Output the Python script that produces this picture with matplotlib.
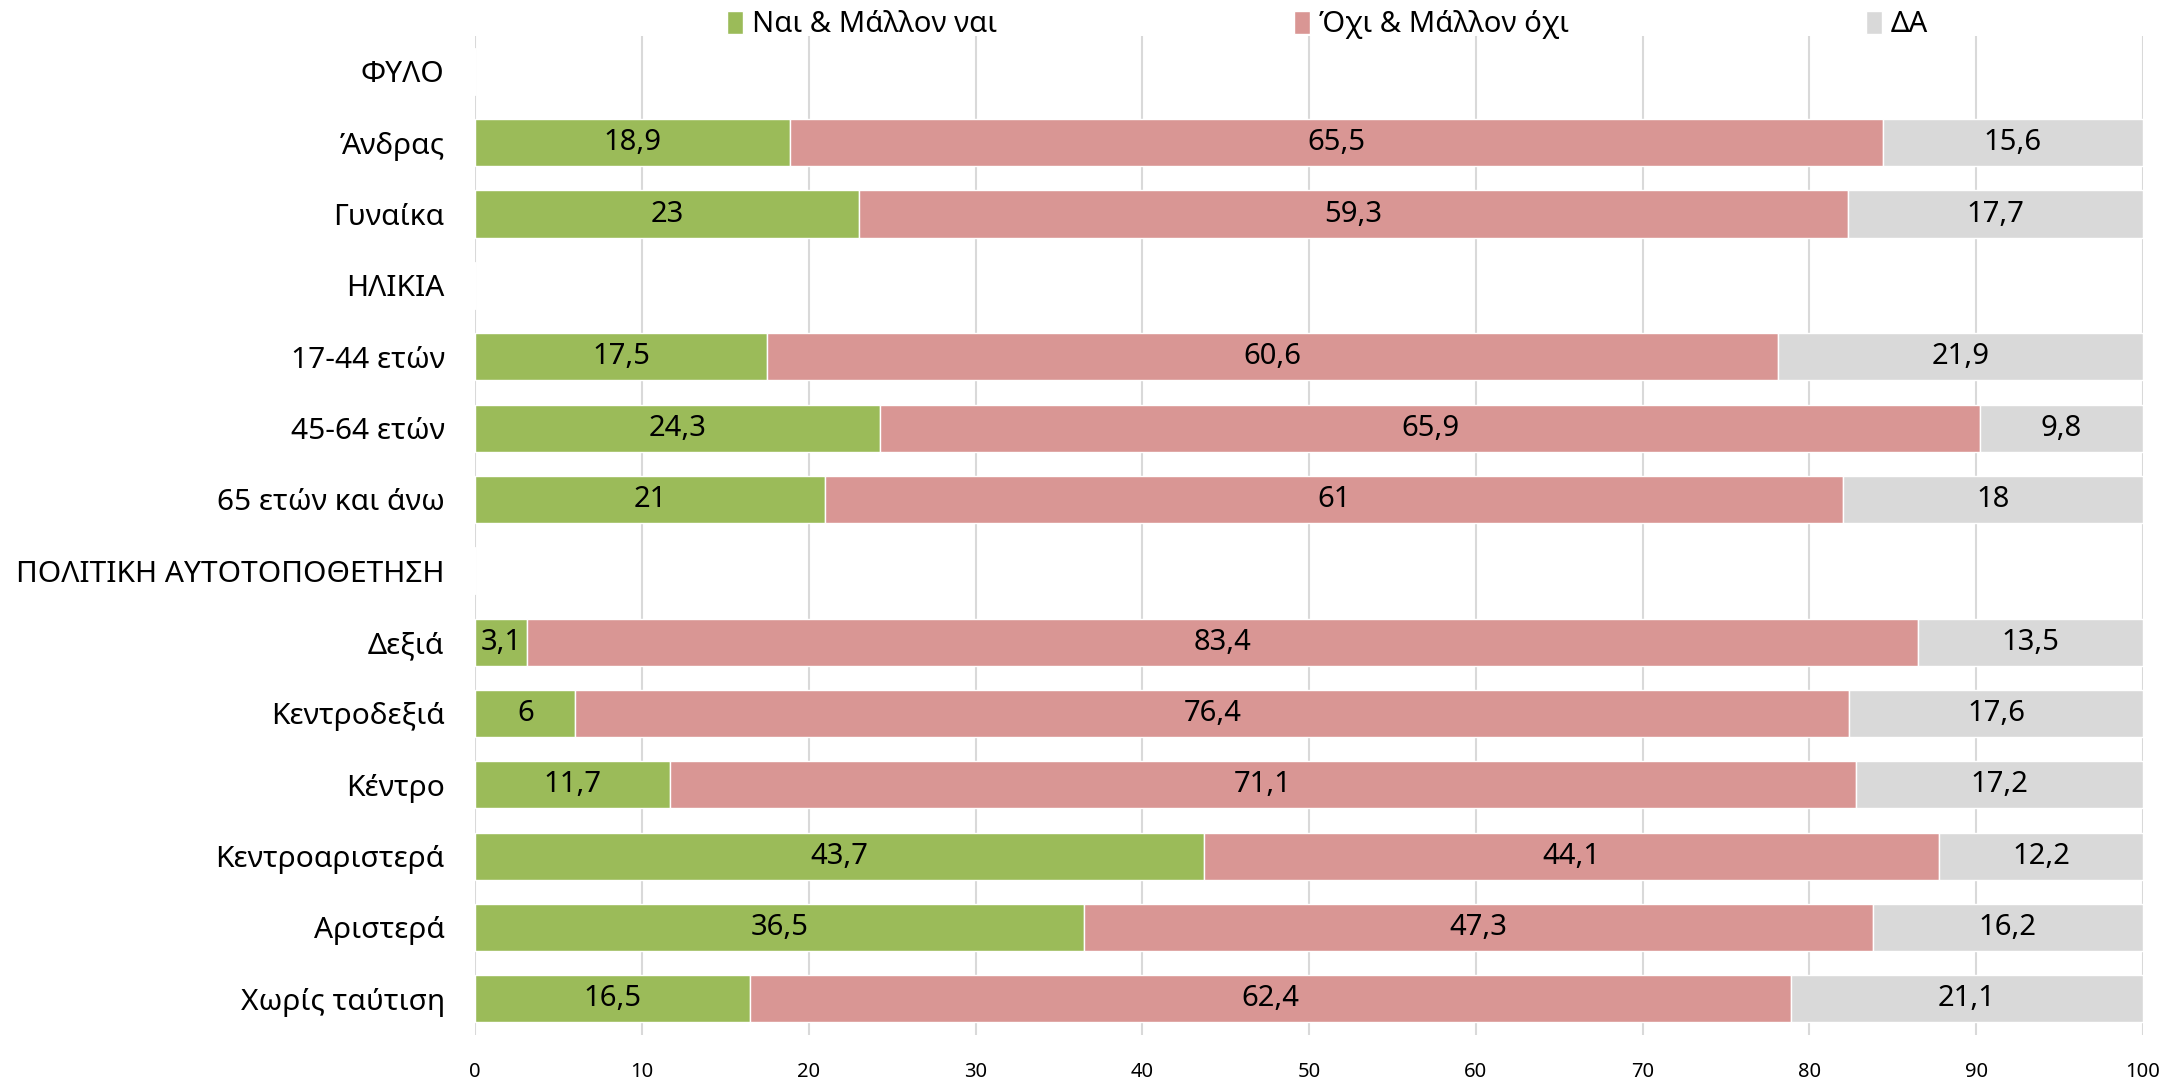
import numpy as np
import matplotlib
matplotlib.use('Agg')
import matplotlib.pyplot as plt

plt.rcParams['font.family'] = ['Noto Sans', 'DejaVu Sans']

# data -------------------------------------------------------------------
categories = ['ΦΥΛΟ', 'Άνδρας', 'Γυναίκα', 'ΗΛΙΚΙΑ', '17-44 ετών', '45-64 ετών',
              '65 ετών και άνω', 'ΠΟΛΙΤΙΚΗ ΑΥΤΟΤΟΠΟΘΕΤΗΣΗ', 'Δεξιά', 'Κεντροδεξιά',
              'Κέντρο', 'Κεντροαριστερά', 'Αριστερά', 'Χωρίς ταύτιση']
yes = [np.nan, 18.9, 23, np.nan, 17.5, 24.3, 21, np.nan, 3.1, 6, 11.7, 43.7, 36.5, 16.5]
no = [np.nan, 65.5, 59.3, np.nan, 60.6, 65.9, 61, np.nan, 83.4, 76.4, 71.1, 44.1, 47.3, 62.4]
dk = [np.nan, 15.6, 17.7, np.nan, 21.9, 9.8, 18, np.nan, 13.5, 17.6, 17.2, 12.2, 16.2, 21.1]
series_names = ['Ναι & Μάλλον ναι', 'Όχι & Μάλλον όχι', 'ΔΑ']
colors = ['#9BBB59', '#D99694', '#D9D9D9']
xticks = list(range(0, 101, 10))

fig = plt.figure(figsize=(21.8, 10.81), dpi=100)
ax = fig.add_axes([0.218, 0.043, 0.765, 0.924])

y = np.arange(len(categories))
left = np.zeros(len(categories))
for vals, name, c in zip([yes, no, dk], series_names, colors):
    vals = np.array(vals, dtype=float)
    v = np.nan_to_num(vals)
    ax.barh(y, v, left=left, height=0.66, color=c, edgecolor='white',
            linewidth=1, label=name, zorder=3)
    # value labels in the middle of each segment
    for i in range(len(v)):
        if not np.isnan(vals[i]):
            txt = ('%g' % vals[i]).replace('.', ',')
            ax.text(left[i] + v[i] / 2, y[i], txt, ha='center', va='center',
                    fontsize=21, color='black', zorder=4)
    left = left + v

ax.set_xlim(0, 100)
ax.set_ylim(len(categories) - 0.5, -0.5)
ax.set_yticks(y)
ax.set_yticklabels(categories, fontsize=21.5)
ax.set_xticks(xticks)
ax.set_xticklabels([str(t) for t in xticks], fontsize=14.5)
ax.tick_params(axis='both', length=0)
ax.tick_params(axis='y', pad=22)
ax.tick_params(axis='x', pad=20)
ax.grid(axis='x', color='#D9D9D9', linewidth=1.5, zorder=0)
for s in ax.spines.values():
    s.set_visible(False)

fig.legend(loc='center', bbox_to_anchor=(0.609, 0.977), ncol=3, frameon=False,
           fontsize=21, handlelength=0.55, handleheight=0.85, handletextpad=0.3,
           columnspacing=10.2)

fig.savefig('out.png', dpi=100)
